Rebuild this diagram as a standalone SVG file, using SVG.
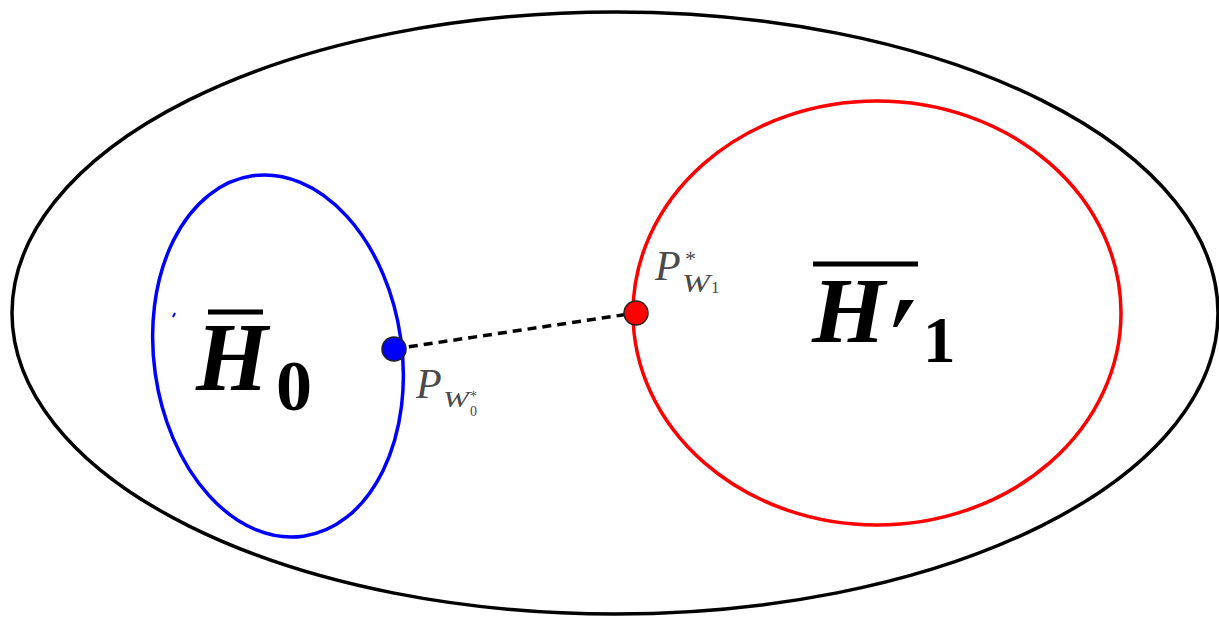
<svg xmlns="http://www.w3.org/2000/svg" width="1219" height="617" viewBox="0 0 1219 617">
<style>
.big{font-family:"Liberation Serif","DejaVu Serif",serif;font-weight:bold;fill:#000}
.lab{font-family:"Liberation Serif","DejaVu Serif",serif;font-style:italic;fill:#4a4a4a}
.sub{font-family:"Liberation Serif","DejaVu Serif",serif;fill:#4a4a4a}
.bar{stroke:#000;stroke-width:5}
</style>
<rect width="1219" height="617" fill="#fff"/>
<g id="universe"><ellipse cx="615" cy="313" rx="603" ry="301" fill="none" stroke="#000" stroke-width="3.5"/></g>
<g id="H0">
<ellipse cx="278" cy="356" rx="124" ry="182" transform="rotate(-8 278 356)" fill="none" stroke="#0000ff" stroke-width="3.5"/>
<path d="M173 317 l2 -4" stroke="#0000ff" stroke-width="2"/>
<line class="bar" x1="208" y1="312" x2="263" y2="312"/>
<text class="big" x="196" y="390" font-size="98" font-style="italic" textLength="72" lengthAdjust="spacingAndGlyphs">H</text>
<text class="big" x="276" y="410" font-size="72">0</text>
</g>
<g id="H1">
<ellipse cx="877" cy="313" rx="244" ry="212" fill="none" stroke="#ff0000" stroke-width="3.5"/>
<line class="bar" x1="813" y1="264" x2="918" y2="264"/>
<text class="big" x="812" y="342" font-size="94" font-style="italic">H</text>
<path d="M900 300 L914 300 L897 327 L893 327 Z" fill="#000"/>
<text class="big" x="923" y="362" font-size="65">1</text>
</g>
<g id="connectors">
<line x1="394" y1="349" x2="636" y2="313" stroke="#000" stroke-width="3.5" stroke-dasharray="9,6"/>
</g>
<g id="PW0">
<circle cx="394" cy="349" r="12" fill="#0000ff" stroke="#222" stroke-width="1.5"/>
<text class="lab" x="416" y="398" font-size="42">P</text>
<text class="lab" x="443" y="407" font-size="24" textLength="26" lengthAdjust="spacingAndGlyphs">W</text>
<text class="sub" x="470" y="401" font-size="14">*</text>
<text class="sub" x="470" y="416" font-size="14">0</text>
</g>
<g id="PW1">
<circle cx="636" cy="313" r="12" fill="#ff0000" stroke="#222" stroke-width="1.5"/>
<text class="lab" x="655" y="280" font-size="42">P</text>
<text class="sub" x="685" y="266" font-size="22">*</text>
<text class="lab" x="682" y="292" font-size="25" textLength="28" lengthAdjust="spacingAndGlyphs">W</text>
<text class="sub" x="711" y="293" font-size="17">1</text>
</g>
</svg>
